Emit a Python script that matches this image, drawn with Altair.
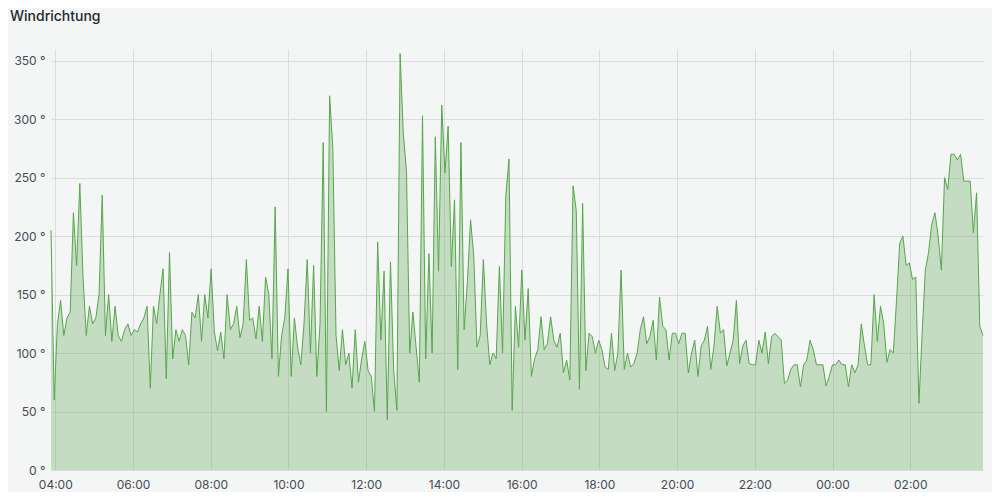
import altair as alt
import pandas as pd

# Wind direction (degrees), in time order
seg_0400 = [205, 60, 125, 145, 115, 130, 135, 220, 175, 245, 165, 115, 140, 125, 130, 150, 235, 115, 150, 110, 140, 115, 110]
seg_0600 = [120, 125, 115, 120, 118, 125, 130, 140, 70, 140, 125, 150, 172, 78, 186, 95, 120, 110, 120, 115, 90, 135, 130, 150, 110]
seg_0800 = [150, 130, 172, 118, 102, 118, 95, 150, 120, 125, 140, 113, 125, 180, 128, 130, 112, 140, 110, 165, 150, 95, 225, 80, 115]
seg_1000 = [130, 172, 80, 130, 105, 90, 125, 180, 100, 175, 80, 125, 280, 50, 320, 275, 115, 85, 120, 90, 100, 70, 120, 75, 95]
seg_1200 = [110, 85, 80, 50, 195, 111, 170, 43, 178, 85, 51, 356, 288, 255, 100, 135, 105, 75, 303, 95, 185, 100, 285, 170, 312]
seg_1400 = [254, 294, 174, 231, 86, 280, 120, 160, 214, 183, 105, 115, 180, 125, 90, 100, 95, 174, 100, 234, 266, 51, 140, 105, 171]
seg_1600 = [111, 155, 80, 95, 103, 131, 103, 108, 131, 111, 105, 117, 83, 94, 77, 243, 222, 69, 228, 85, 117, 114, 100, 111, 103]
seg_1800 = [88, 86, 117, 85, 100, 171, 86, 100, 88, 91, 100, 120, 131, 108, 114, 128, 94, 148, 123, 120, 94, 117, 117, 108, 117]
seg_2000 = [117, 83, 100, 111, 80, 106, 111, 123, 86, 106, 140, 117, 120, 89, 100, 111, 145, 91, 106, 111, 91, 90, 90, 111, 100]
seg_2200 = [118, 91, 114, 117, 114, 111, 74, 77, 86, 90, 90, 71, 90, 94, 111, 103, 90, 90, 90, 72, 80, 90, 90, 94, 90]
seg_0000 = [90, 71, 90, 83, 90, 125, 106, 90, 90, 150, 110, 140, 125, 92, 103, 100, 145, 194, 200, 175, 177, 163, 165, 57]
seg_0200 = [117, 171, 186, 210, 220, 200, 171, 250, 240, 270, 270, 265, 270, 247, 247, 247, 203, 237, 123, 115]

wind_deg = (seg_0400 + seg_0600 + seg_0800 + seg_1000 + seg_1200 + seg_1400
            + seg_1600 + seg_1800 + seg_2000 + seg_2200 + seg_0000 + seg_0200)

start_time = "2024-05-01 03:53:24"
end_time = "2024-05-02 03:52:18"
times = pd.date_range(start_time, end_time, periods=len(wind_deg)).strftime("%Y-%m-%dT%H:%M:%S")

y_ticks = [0, 50, 100, 150, 200, 250, 300, 350]
# x ticks every two hours: (day, hour)
x_ticks = [(1, 4), (1, 6), (1, 8), (1, 10), (1, 12), (1, 14), (1, 16), (1, 18),
           (1, 20), (1, 22), (2, 0), (2, 2)]

df = pd.DataFrame({"time": list(times), "deg": wind_deg})

GREEN = "#56a64b"

base = alt.Chart(df).encode(
    x=alt.X(
        "time:T",
        scale=alt.Scale(nice=False),
        axis=alt.Axis(
            format="%H:%M",
            values=[alt.DateTime(year=2024, month=5, date=d, hours=h) for d, h in x_ticks],
            title=None,
            labelPadding=9,
            labelFlush=False,
            grid=True,
        ),
    ),
    y=alt.Y(
        "deg:Q",
        scale=alt.Scale(domain=[0, 360], nice=False),
        axis=alt.Axis(
            values=y_ticks,
            labelExpr="datum.value + ' °'",
            title=None,
            labelPadding=6,
            grid=True,
        ),
    ),
)

area = base.mark_area(color=GREEN, fillOpacity=0.3, interpolate="linear")
line = base.mark_line(color=GREEN, strokeWidth=1, interpolate="linear")

chart = (
    alt.layer(area, line)
    .properties(
        width=932,
        height=421,
        autosize=alt.AutoSizeParams(type="none"),
        padding={"left": 43, "top": 41, "right": 9, "bottom": 22},
        background="#f4f5f5",
        title=alt.TitleParams(
            text="Windrichtung",
            anchor="start",
            frame="group",
            dx=-41,
            dy=-7,
            baseline="bottom",
            font="Inter",
            fontSize=14,
            fontWeight=500,
            color="#24292e",
        ),
    )
    .configure_view(stroke=None)
    .configure_axis(
        labelFont="Inter",
        labelFontSize=12,
        labelColor="#464c54",
        gridColor="#dbdcdd",
        gridWidth=1,
        domain=False,
        ticks=False,
    )
)

chart.save("out.html", embed_options={"renderer": "svg", "actions": False})
